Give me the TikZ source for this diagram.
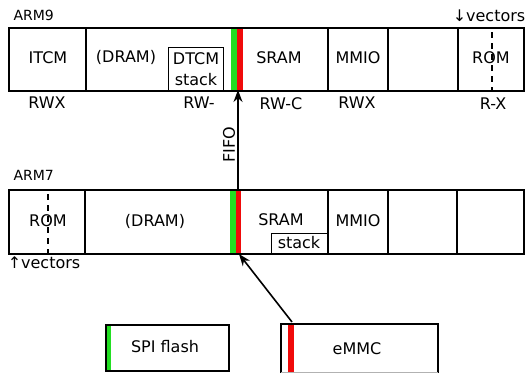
\documentclass[tikz,border=0pt]{standalone}
\usepackage{fontspec}
\setmainfont{DejaVu Sans}
\usetikzlibrary{arrows.meta}
\definecolor{strgreen}{RGB}{34,222,34}
\definecolor{strred}{RGB}{240,10,10}
\begin{document}
\begin{tikzpicture}[x=1pt,y=-1pt,font=\fontsize{16}{18}\selectfont,
  bx/.style={draw,line width=1.8pt,inner sep=0pt,anchor=north west},
  dv/.style={line width=1.6pt},
  dsh/.style={line width=1.4pt,dash pattern=on 6pt off 5pt},
  hdr/.style={anchor=west,font=\fontsize{14}{16}\selectfont},
  arr/.style={line width=1.6pt,-{Stealth[length=12pt,width=9pt]}}]
\useasboundingbox (0,0) rectangle (528,373);
% ARM9
\fill[strgreen] (231,27) rectangle (237,90);
\fill[strred] (237,27) rectangle (243,90);
\node[bx,minimum width=515pt,minimum height=63pt] (arm9) at (8,27) {};
\draw[dv] (86,27) -- (86,90);
\draw[dv] (328,27) -- (328,90);
\draw[dv] (388,27) -- (388,90);
\draw[dv] (458,27) -- (458,90);
\draw[dsh] (492,32) -- (492,90);
\node[draw,line width=1.4pt,minimum width=55pt,minimum height=43pt,anchor=north west,inner sep=0pt] (dtcm) at (168,47) {};
\node (itcm) at (48,58) {ITCM};
\node (dram9) at (126,57) {(DRAM)};
\node (dtcmt) at (196,59) {DTCM};
\node (stack9) at (196,80) {stack};
\node (sram9) at (279,58) {SRAM};
\node (mmio9) at (358,58) {MMIO};
\node (rom9) at (491,58) {ROM};
\node[hdr] (arm9l) at (10,15) {ARM9};
\node (vec9) at (489,16) {↓vectors};
\node (p1) at (47,103) {RWX};
\node (p2) at (199,103) {RW-};
\node (p3) at (281,104) {RW-C};
\node (p4) at (357,103) {RWX};
\node (p5) at (493,104) {R-X};
% ARM7
\fill[strgreen] (230,189) rectangle (236,253);
\fill[strred] (236,189) rectangle (241,253);
\node[bx,minimum width=515pt,minimum height=64pt] (arm7) at (8,189) {};
\draw[dv] (85,189) -- (85,253);
\draw[dv] (328,189) -- (328,253);
\draw[dv] (388,189) -- (388,253);
\draw[dv] (457,189) -- (457,253);
\draw[dsh] (48,194) -- (48,253);
\node[draw,line width=1.4pt,minimum width=56pt,minimum height=20pt,anchor=north west,inner sep=0pt] (stk7) at (271,233) {};
\node (rom7) at (48,221) {ROM};
\node (dram7) at (155,221) {(DRAM)};
\node (sram7) at (281,220) {SRAM};
\node (stack7) at (299,243) {stack};
\node (mmio7) at (358,221) {MMIO};
\node[hdr] (arm7l) at (10,175) {ARM7};
\node (vec7) at (44,263) {↑vectors};
% FIFO
\coordinate (f7) at (238,189);
\coordinate (f9) at (238,90);
\draw[arr] (f7) -- (f9);
\node[rotate=90] (fifo) at (229,145) {FIFO};
% storage
\fill[strgreen] (105,324) rectangle (111,370);
\node[bx,minimum width=123pt,minimum height=46pt] (spi) at (105,324) {};
\node (spit) at (165,347) {SPI flash};
\fill[strred] (288,324) rectangle (294,373);
\draw[line width=1.8pt] (281,373) -- (281,324) -- (438,324) -- (438,373);
\draw[line width=1pt,black!30] (281,372) -- (438,372);
\node[inner sep=0pt,minimum width=157pt,minimum height=49pt,anchor=north west] (emmc) at (281,324) {};
\node (emmct) at (357,349) {eMMC};
\coordinate (e7) at (239,254);
\draw[arr] (292,322) -- (e7);
\end{tikzpicture}
\end{document}
